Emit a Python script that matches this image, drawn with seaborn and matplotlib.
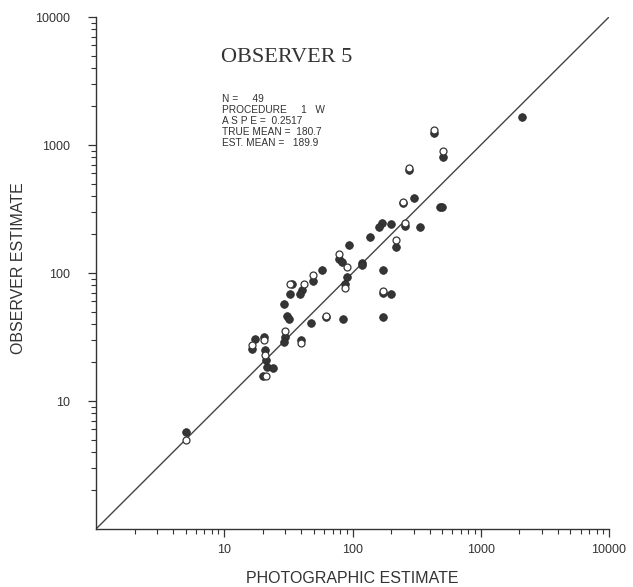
import matplotlib
matplotlib.use("Agg")
import matplotlib.pyplot as plt
from matplotlib.ticker import LogLocator, NullFormatter, FixedLocator, FixedFormatter
import seaborn as sns
import pandas as pd

# ---- data (photographic estimate, observer estimate) ----
filled_x = [2090, 432, 508, 275, 480, 495, 247, 300, 171, 161, 198, 255, 338, 217,
            138, 94, 79, 83, 91, 119, 119, 174, 173, 198, 174, 86.7, 58, 49.3, 33.5,
            32.8, 40.5, 39.3, 29.4, 30.9, 31.8, 47.5, 62, 84, 29.8, 29, 40, 17.5,
            16.6, 20.5, 20.9, 21.2, 21.5, 24, 19.9, 5]
filled_y = [1663, 1230, 800, 637, 326, 326, 350, 383, 248, 227, 241, 233, 230, 160,
            192, 165, 128, 122, 93.5, 119, 115, 105, 69.3, 69, 45, 82, 105, 87, 81.5,
            69, 73.6, 69, 56.9, 46, 43.7, 40.4, 45, 43.4, 31.8, 29, 30, 30.3,
            25.3, 31.8, 25, 20.9, 18.5, 18.2, 15.8, 5.7]

open_x = [432, 508, 275, 247, 255, 217, 77.8, 89.8, 173, 86.7, 49.3, 32.8, 41.7,
          29.8, 40, 16.6, 20.5, 20.9, 21.3, 5, 62]
open_y = [1310, 902, 657, 360, 244, 181, 142, 112, 72.8, 75.8, 96.4, 81.5, 81.5,
          35.4, 28.2, 27.4, 29.9, 22.9, 15.8, 5, 46.5]

line_x = [1, 10000]
line_y = [1, 10000]

tick_vals = [10, 100, 1000, 10000]
tick_labels = ["10", "100", "1000", "10000"]

title_text = "OBSERVER 5"
stats_lines = ["N =     49",
               "PROCEDURE     1   W",
               "A S P E =  0.2517",
               "TRUE MEAN =  180.7",
               "EST. MEAN =   189.9"]
xlabel = "PHOTOGRAPHIC ESTIMATE"
ylabel = "OBSERVER ESTIMATE"

# ---- plotting ----
sns.set_style("ticks")
plt.rcParams["font.family"] = ["Liberation Sans", "DejaVu Sans"]
ink = "#333333"

fig = plt.figure(figsize=(6.33, 5.87), dpi=100)
ax = fig.add_axes([96 / 633, 1 - 529 / 587, 513 / 633, 512 / 587])

df_line = pd.DataFrame({"x": line_x, "y": line_y})
sns.lineplot(data=df_line, x="x", y="y", ax=ax, color="#444444", linewidth=1.0)

df_f = pd.DataFrame({"x": filled_x, "y": filled_y})
sns.scatterplot(data=df_f, x="x", y="y", ax=ax, s=30, color="#353535",
                edgecolor="#2a2a2a", linewidth=0.6, zorder=3)
df_o = pd.DataFrame({"x": open_x, "y": open_y})
sns.scatterplot(data=df_o, x="x", y="y", ax=ax, s=25, color="white",
                edgecolor="#353535", linewidth=0.9, zorder=4)

ax.set_xscale("log")
ax.set_yscale("log")
ax.set_xlim(1, 10000)
ax.set_ylim(1, 10000)

for axis in (ax.xaxis, ax.yaxis):
    axis.set_major_locator(FixedLocator(tick_vals))
    axis.set_major_formatter(FixedFormatter(tick_labels))
    axis.set_minor_locator(LogLocator(base=10, subs=range(2, 10)))
    axis.set_minor_formatter(NullFormatter())

ax.tick_params(axis="both", which="major", length=6, width=0.9, color=ink,
               labelsize=9, labelcolor=ink, direction="out")
ax.tick_params(axis="both", which="minor", length=3.5, width=0.8, color=ink,
               direction="out")
ax.tick_params(axis="x", which="major", pad=5)
ax.tick_params(axis="y", which="major", pad=13)

sns.despine(ax=ax)
for sp in ("left", "bottom"):
    ax.spines[sp].set_color(ink)
    ax.spines[sp].set_linewidth(1.0)

ax.set_xlabel(xlabel, fontsize=11.5, color=ink)
ax.set_ylabel(ylabel, fontsize=11.5, color=ink)
ax.xaxis.set_label_coords(0.5, -0.082)
ax.yaxis.set_label_coords(-0.137, 0.51)

ax.text(0.372, 0.92, title_text, transform=ax.transAxes, ha="center", va="center",
        fontsize=16, color=ink, family=["Liberation Serif", "DejaVu Serif"])

y0 = 0.840
dy = 11 / 512
for i, line in enumerate(stats_lines):
    ax.text(0.2456, y0 - i * dy, line, transform=ax.transAxes, ha="left",
            va="center", fontsize=7.3, color=ink)

fig.savefig("out.png", dpi=100, facecolor="white")
